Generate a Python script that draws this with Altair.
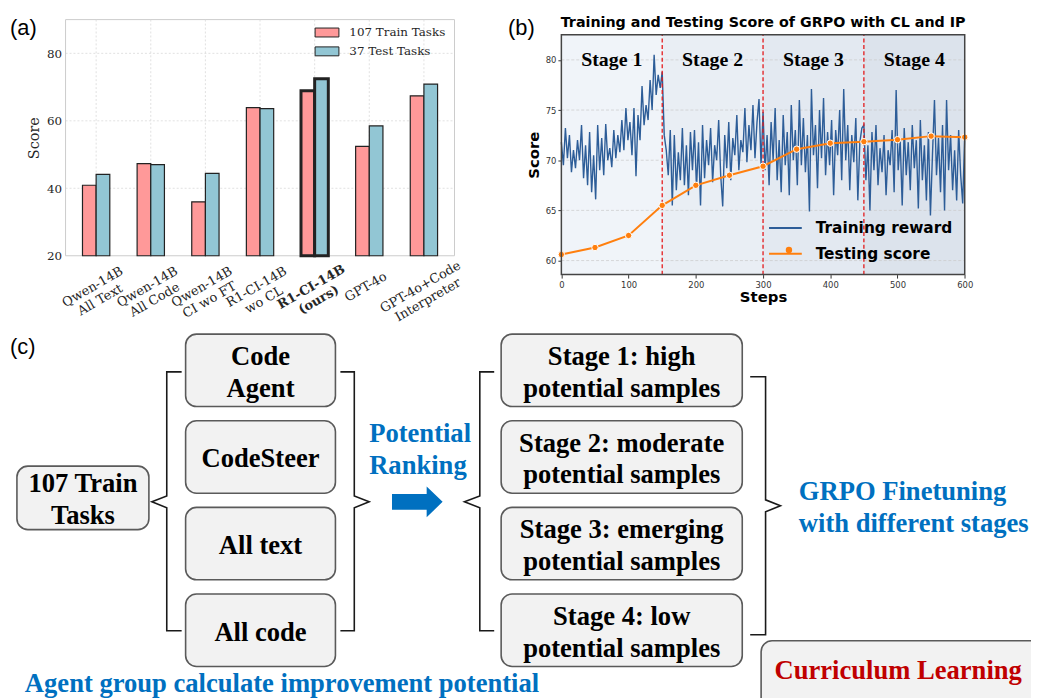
import altair as alt
import pandas as pd

# ---------------- panel (a) data ----------------
models = ["Qwen-14B|All Text", "Qwen-14B|All Code", "Qwen-14B|CI wo FT", "R1-CI-14B|wo CL",
          "R1-CI-14B|(ours)", "GPT-4o", "GPT-4o+Code|Interpreter"]
train_scores = [40.9, 47.3, 36.0, 63.9, 68.9, 52.4, 67.4]
test_scores = [44.1, 47.0, 44.4, 63.6, 72.5, 58.5, 70.9]
bar_series = ["107 Train Tasks", "37 Test Tasks"]
a_ticks = [20, 40, 60, 80]

# ---------------- panel (b) data ----------------
steps_train = list(range(0, 601, 3))
training_reward = [
    # stage 1
    71.8, 69.5, 73.2, 70.2, 72.5, 68.8, 71.0, 69.2, 72.0, 70.0,
    73.5, 68.2, 71.5, 67.5, 72.8, 66.8, 70.5, 66.1, 73.5, 69.0,
    72.2, 68.5, 73.6, 70.0, 71.2, 69.3, 73.0, 70.2, 72.5, 70.8,
    74.0, 71.0, 75.2, 72.0, 73.8, 70.5, 75.2, 68.4, 74.5, 72.0,
    77.4, 73.5, 75.5, 74.0, 78.0, 75.0, 80.5, 76.5, 78.5, 77.2,
    # stage 2
    78.8, 72.5, 71.0, 68.5, 73.0, 65.5, 72.5, 67.0, 70.8, 68.0,
    73.2, 67.5, 71.5, 66.5, 72.8, 69.0, 73.0, 67.2, 71.8, 65.5,
    73.5, 68.2, 72.0, 69.5, 73.2, 67.8, 71.5, 70.0, 74.0, 68.5,
    65.4, 72.5, 69.2, 73.8, 68.0, 72.2, 70.5, 74.5, 69.0, 72.0,
    70.8, 75.2, 69.8, 73.5, 71.0, 75.5, 70.2, 73.8, 76.1, 69.5,
    # stage 3
    74.8, 69.0, 72.5, 67.5, 73.8, 70.0, 75.2, 68.0, 72.0, 66.8,
    74.5, 69.5, 72.8, 66.5, 75.5, 70.0, 73.0, 67.5, 76.0, 69.5,
    74.2, 68.8, 72.5, 64.9, 77.1, 70.5, 73.5, 67.2, 75.0, 70.2,
    76.2, 68.5, 72.8, 69.5, 74.0, 66.5, 73.0, 70.5, 75.0, 68.0,
    77.1, 70.0, 73.5, 67.0, 72.5, 69.8, 74.2, 66.0, 71.8, 73.2,
    # stage 4
    73.5, 68.0, 71.5, 65.0, 72.8, 69.0, 73.5, 67.5, 71.2, 68.8,
    72.5, 66.5, 71.0, 69.5, 73.0, 66.8, 77.0, 69.0, 72.0, 65.5,
    73.2, 68.5, 71.8, 67.0, 73.5, 69.2, 72.0, 65.2, 74.0, 68.0,
    71.5, 66.0, 72.8, 64.5, 70.5, 76.0, 68.5, 72.2, 66.8, 73.5,
    65.0, 76.0, 69.0, 72.5, 67.0, 71.0, 66.0, 73.0, 68.5, 65.7,
    72.5,
]
steps_test = [0, 50, 100, 150, 200, 250, 300, 350, 400, 450, 500, 550, 600]
testing_score = [60.6, 61.3, 62.5, 65.5, 67.5, 68.5, 69.4, 71.1, 71.7, 71.85, 72.05, 72.4, 72.3]
line_series = ["Training reward", "Testing score"]
stage_names = ["Stage 1", "Stage 2", "Stage 3", "Stage 4"]
stage_bounds = [0, 150, 300, 450, 600]
b_xticks = [0, 100, 200, 300, 400, 500, 600]
b_yticks = [60, 65, 70, 75, 80]
b_title = "Training and Testing Score of GRPO with CL and IP"

# ---------------- panel (c) texts ----------------
panel_tags = ["(a)", "(b)", "(c)"]
train_box = "107 Train|Tasks"
agent_boxes = ["Code|Agent", "CodeSteer", "All text", "All code"]
stage_boxes = ["Stage 1: high|potential samples", "Stage 2: moderate|potential samples",
               "Stage 3: emerging|potential samples", "Stage 4: low|potential samples"]
ranking_label = "Potential|Ranking"
grpo_label = "GRPO Finetuning|with different stages"
cl_label = "Curriculum Learning"
caption = "Agent group calculate improvement potential"

# ---------------- styles ----------------
SERIF = "DejaVu Serif"
TIMES = "Liberation Serif"
SANS = "DejaVu Sans"
BLUE_TXT = "#0070C0"
RED_TXT = "#C00000"
ORANGE = "#ff7f0e"
W, H = 1031, 690
DIAG_FS = 26.8

# ================= panel (a) =================
a_xrange = [58, 450]
a_yrange = [247, 9]
a_ydom = [20, 90]

a_df = pd.DataFrame({
    "model": models * 2,
    "series": [bar_series[0]] * len(models) + [bar_series[1]] * len(models),
    "score": train_scores + test_scores,
})
a_models_df = pd.DataFrame({"model": models})

aX_axis = alt.Axis(orient="bottom", offset=a_yrange[0] - H, title=None, domain=False,
                   ticks=False, tickSize=0, grid=False, labelAngle=330, labelAlign="center",
                   labelBaseline="middle", labelPadding=31, labelOffset=-3.5,
                   labelExpr="split(datum.label, '|')", labelFont=SERIF, labelFontSize=13,
                   labelColor="#262626", labelLineHeight=15, labelLimit=0, labelOverlap=False,
                   labelBound=False,
                   labelFontWeight={"condition": {"test": "indexof(datum.value, 'ours') >= 0",
                                                  "value": "bold"}, "value": "normal"})
aY_axis = alt.Axis(orient="left", offset=-a_xrange[0], values=a_ticks, title="Score",
                   titleFont=SERIF, titleFontSize=14.5, titleFontWeight="normal",
                   titleColor="#262626", titlePadding=5, labelFont=SERIF, labelFontSize=12,
                   labelColor="#262626", domain=False, ticks=False, tickSize=0,
                   labelPadding=4, grid=False)
xA_scale = alt.Scale(domain=models, range=a_xrange, paddingInner=0.5, paddingOuter=0.31)
yA_scale = alt.Scale(domain=a_ydom, range=a_yrange, zero=False, nice=False)
xA = alt.X("model:N", sort=models, scale=xA_scale, axis=aX_axis)
yA = alt.Y("score:Q", scale=yA_scale, axis=aY_axis)

a_vgrid = alt.Chart(a_models_df).mark_rule(color="#d9d9d9", strokeWidth=0.8, strokeDash=[2, 2]).encode(
    x=xA, y=alt.datum(a_ydom[0], scale=yA_scale, axis=aY_axis), y2=alt.datum(a_ydom[1]))

a_bars = alt.Chart(a_df).mark_bar(stroke="#222222").encode(
    x=xA,
    xOffset=alt.XOffset("series:N", sort=bar_series, scale=alt.Scale(domain=bar_series)),
    y=yA,
    y2=alt.datum(a_ydom[0]),
    fill=alt.Fill("series:N", sort=bar_series,
                  scale=alt.Scale(domain=bar_series, range=["#ff9999", "#92c6d4"]),
                  legend=alt.Legend(orient="none", legendX=309, legendY=9.5, title=None,
                                    symbolType="M-1,-0.375L1,-0.375L1,0.375L-1,0.375Z",
                                    symbolSize=576, symbolStrokeColor="#222222",
                                    symbolStrokeWidth=1, symbolOpacity=1, labelFont=SERIF,
                                    labelFontSize=12, labelColor="#262626", labelOffset=10,
                                    rowPadding=-7.8, padding=0)),
    strokeWidth=alt.condition("indexof(datum.model, 'ours') >= 0", alt.value(3), alt.value(1.2)),
)
panel_a = alt.layer(a_vgrid, a_bars)

# frame + horizontal grid of panel (a): unit-width x scale over the same pixel span
a_frame_x = alt.Scale(domain=[0, 1], range=a_xrange, zero=False, nice=False)
a_hgrid_df = pd.DataFrame({"v": a_ticks[1:]})
a_hgrid = alt.Chart(a_hgrid_df).mark_rule(color="#d9d9d9", strokeWidth=0.8, strokeDash=[2, 2]).encode(
    x=alt.datum(0, scale=a_frame_x, axis=None), x2=alt.datum(1),
    y=alt.Y("v:Q", scale=yA_scale, axis=None))
a_frame = alt.Chart(pd.DataFrame({"k": [0]})).mark_rect(fillOpacity=0, stroke="#cccccc", strokeWidth=1).encode(
    x=alt.datum(0, scale=a_frame_x, axis=None), x2=alt.datum(1),
    y=alt.datum(a_ydom[0], scale=yA_scale, axis=None), y2=alt.datum(a_ydom[1]))
panel_a_bg = alt.layer(a_hgrid, a_frame)

# ================= panel (b) =================
b_xrange = [557.7, 964.2]
b_yrange = [266, 24.3]
b_ydom = [58.6, 82.5]

train_df = pd.DataFrame({"step": steps_train, "score": training_reward, "series": line_series[0]})
test_df = pd.DataFrame({"step": steps_test, "score": testing_score, "series": line_series[1]})
stage_df = pd.DataFrame({"stage": stage_names, "start": stage_bounds[:-1], "end": stage_bounds[1:]})
stage_df["mid"] = (stage_df["start"] + stage_df["end"]) / 2
div_df = pd.DataFrame({"step": stage_bounds[1:-1]})
bgrid_df = pd.DataFrame({"v": b_yticks})

bX_axis = alt.Axis(orient="bottom", offset=b_yrange[0] - H, values=b_xticks, title="Steps",
                   titleFont=SANS, titleFontSize=15, titleFontWeight="bold", titleColor="black",
                   titlePadding=1, labelFont=SANS, labelFontSize=8.5, labelColor="#333333",
                   tickSize=3.5, tickColor="#333333", domain=False, grid=False,
                   labelPadding=2, labelFlush=False)
bY_axis = alt.Axis(orient="left", offset=-b_xrange[0], values=b_yticks, title="Score",
                   titleFont=SANS, titleFontSize=15, titleFontWeight="bold", titleColor="black",
                   titlePadding=4, labelFont=SANS, labelFontSize=8.5, labelColor="#333333",
                   tickSize=3.5, tickColor="#333333", domain=False, grid=False, labelPadding=2)
xB_scale = alt.Scale(domain=[0, 600], range=b_xrange, zero=False, nice=False)
yB_scale = alt.Scale(domain=b_ydom, range=b_yrange, zero=False, nice=False)
xB = alt.X("step:Q", scale=xB_scale, axis=bX_axis)
yB = alt.Y("score:Q", scale=yB_scale, axis=bY_axis)


def yB_datum(v):
    return alt.datum(v, scale=yB_scale, axis=bY_axis)


def xB_datum(v):
    return alt.datum(v, scale=xB_scale, axis=bX_axis)


b_bg = alt.Chart(stage_df).mark_rect().encode(
    x=alt.X("start:Q", scale=xB_scale, axis=bX_axis), x2="end:Q",
    y=yB_datum(b_ydom[0]), y2=alt.datum(b_ydom[1]),
    color=alt.Color("stage:N", scale=alt.Scale(domain=stage_names,
                    range=["#f0f4f9", "#e9eef4", "#e3e9f1", "#dce3ec"]), legend=None))
b_grid = alt.Chart(bgrid_df).mark_rule(color="#c9c9c9", strokeWidth=0.7, strokeDash=[3, 2]).encode(
    x=xB_datum(0), x2=alt.datum(600),
    y=alt.Y("v:Q", scale=yB_scale, axis=bY_axis))
stroke_enc = alt.Stroke("series:N", sort=line_series,
                        scale=alt.Scale(domain=line_series, range=["#2d5d98", ORANGE]),
                        legend=alt.Legend(orient="none", legendX=766, legendY=201.5, title=None,
                                          symbolType="stroke", symbolSize=1089, symbolStrokeWidth=2,
                                          labelFont=SANS, labelFontSize=15.5, labelFontWeight="bold",
                                          labelColor="black", labelOffset=13, rowPadding=-13,
                                          padding=0))
b_train = alt.Chart(train_df).mark_line(strokeWidth=1.4).encode(x=xB, y=yB, stroke=stroke_enc)
b_div = alt.Chart(div_df).mark_rule(color="#e31a1c", strokeWidth=1.3, strokeDash=[4, 2.5]).encode(
    x=alt.X("step:Q", scale=xB_scale, axis=bX_axis),
    y=yB_datum(b_ydom[0]), y2=alt.datum(b_ydom[1]))
b_test = alt.Chart(test_df).mark_line(strokeWidth=2).encode(x=xB, y=yB, stroke=stroke_enc)
# marker layer; its shape legend only contributes the dot on the "Testing score" legend line
b_test_pts = alt.Chart(test_df).mark_point(filled=True, fill=ORANGE, stroke="white", strokeWidth=1,
                                           size=42, opacity=1).encode(
    x=xB, y=yB,
    shape=alt.Shape("series:N", scale=alt.Scale(domain=[line_series[1]], range=["circle"]),
                    legend=alt.Legend(orient="none", legendX=779.3, legendY=233.5, title=None,
                                      symbolFillColor=ORANGE, symbolStrokeColor="white",
                                      symbolStrokeWidth=1, symbolSize=42, symbolOpacity=1,
                                      labelExpr="''", labelFontSize=15.5, labelFont=SANS,
                                      labelFontWeight="bold", padding=0)))
b_labels = alt.Chart(stage_df).mark_text(font=TIMES, fontSize=20, fontWeight="bold", baseline="middle",
                                         align="center", color="black").encode(
    x=alt.X("mid:Q", scale=xB_scale, axis=bX_axis),
    y=yB_datum(80.0), text="stage:N")
b_frame = alt.Chart(pd.DataFrame({"k": [0]})).mark_rect(fillOpacity=0, stroke="#444444", strokeWidth=1.5).encode(
    x=xB_datum(0), x2=alt.datum(600),
    y=yB_datum(b_ydom[0]), y2=alt.datum(b_ydom[1]))
panel_b = alt.layer(b_bg, b_grid, b_train, b_div, b_test, b_test_pts, b_labels, b_frame)

# ================= panel (c): diagram in page-pixel layout space =================
cxs = alt.Scale(domain=[0, 1039], range=[-8, 1031], zero=False, nice=False)
cys = alt.Scale(domain=[0, 698], range=[-8, 690], zero=False, nice=False)


def CX(f):
    return alt.X(f, type="quantitative", scale=cxs, axis=None)


def CY(f):
    return alt.Y(f, type="quantitative", scale=cys, axis=None)


LINE_H = 32
row_top, row_step, box_h = 334, 87.3, 73
agent_col = (187, 338)
stage_col = (505, 748)
boxes = [dict(x0=17, x1=150, y0=467, y1=531, label=train_box)]
for i, lab in enumerate(agent_boxes):
    boxes.append(dict(x0=agent_col[0], x1=agent_col[1], y0=row_top + i * row_step,
                      y1=row_top + i * row_step + box_h, label=lab))
for i, lab in enumerate(stage_boxes):
    boxes.append(dict(x0=stage_col[0], x1=stage_col[1], y0=row_top + i * row_step,
                      y1=row_top + i * row_step + box_h, label=lab))
boxes.append(dict(x0=767, x1=1090, y0=643, y1=740, label=""))
box_df = pd.DataFrame(boxes)
box_df["cx"] = (box_df["x0"] + box_df["x1"]) / 2
box_df["nlines"] = box_df["label"].str.count(r"\|") + 1
box_df["ty"] = (box_df["y0"] + box_df["y1"]) / 2 - (box_df["nlines"] - 1) * LINE_H / 2

c_boxes = alt.Chart(box_df).mark_rect(cornerRadius=11, fill="#f2f2f2", stroke="#5a5a5a", strokeWidth=1.6).encode(
    x=CX("x0"), x2="x1", y=CY("y0"), y2="y1")
c_box_txt = alt.Chart(box_df).mark_text(font=TIMES, fontSize=DIAG_FS, fontWeight="bold", lineBreak="|",
                                        lineHeight=LINE_H, baseline="middle", align="center", dy=2.5,
                                        color="black").encode(x=CX("cx"), y=CY("ty"), text="label:N")


def bracket(bid, vx, hook_x, tip_x, top, bot, mid, notch=6):
    pts = [(hook_x, top), (vx, top), (vx, mid - notch), (tip_x, mid), (vx, mid + notch),
           (vx, bot), (hook_x, bot)]
    return [dict(bid=bid, k=i, x=p[0], y=p[1]) for i, p in enumerate(pts)]


br = (bracket("a", 168, 183, 153, 372, 633, 503) + bracket("b", 357, 343, 372, 372, 633, 503) +
      bracket("c", 483.5, 498, 468, 372, 633, 503) + bracket("d", 771.5, 756, 786.5, 377, 637, 507))
c_br = alt.Chart(pd.DataFrame(br)).mark_line(color="#1a1a1a", strokeWidth=1.6).encode(
    x=CX("x"), y=CY("y"), order="k:Q", detail="bid:N")

side_txt = pd.DataFrame([
    dict(x=372, y=443, label=ranking_label, col=BLUE_TXT),
    dict(x=805, y=501, label=grpo_label, col=BLUE_TXT),
    dict(x=780.5, y=682, label=cl_label, col=RED_TXT),
    dict(x=25, y=695, label=caption, col=BLUE_TXT),
])
c_side = alt.Chart(side_txt).mark_text(font=TIMES, fontSize=DIAG_FS, fontWeight="bold", lineBreak="|",
                                       lineHeight=LINE_H, align="left", baseline="alphabetic").encode(
    x=CX("x"), y=CY("y"), text="label:N", color=alt.Color("col:N", scale=None))

arrow_df = pd.DataFrame([dict(x=420.5, y=503)])
c_arrow = alt.Chart(arrow_df).mark_point(
    shape="M-1,-0.31L0.37,-0.31L0.37,-0.61L1,0L0.37,0.61L0.37,0.31L-1,0.31Z",
    size=2601, filled=True, color=BLUE_TXT, opacity=1).encode(x=CX("x"), y=CY("y"))

tags_df = pd.DataFrame([dict(x=10, y=33, label=panel_tags[0]), dict(x=512, y=33, label=panel_tags[1]),
                        dict(x=10, y=354, label=panel_tags[2])])
c_tags = alt.Chart(tags_df).mark_text(font="Liberation Sans", fontSize=22, align="left",
                                      baseline="alphabetic", color="black").encode(
    x=CX("x"), y=CY("y"), text="label:N")

title_df = pd.DataFrame([dict(x=769, y=24, label=b_title)])
c_title = alt.Chart(title_df).mark_text(font=SANS, fontSize=14.4, fontWeight="bold", align="center",
                                        baseline="alphabetic", color="black").encode(
    x=CX("x"), y=CY("y"), text="label:N")

panel_c = alt.layer(c_boxes, c_box_txt, c_br, c_side, c_arrow, c_tags, c_title)

chart = alt.layer(panel_a_bg, panel_a, panel_b, panel_c).resolve_scale(
    x="independent", y="independent", fill="independent", stroke="independent", color="independent",
    shape="independent"
).properties(
    width=W, height=H, padding=0, autosize=alt.AutoSizeParams(type="none"), background="white"
).configure_view(strokeWidth=0)

chart.save("out.html", embed_options={"renderer": "svg", "actions": False})
